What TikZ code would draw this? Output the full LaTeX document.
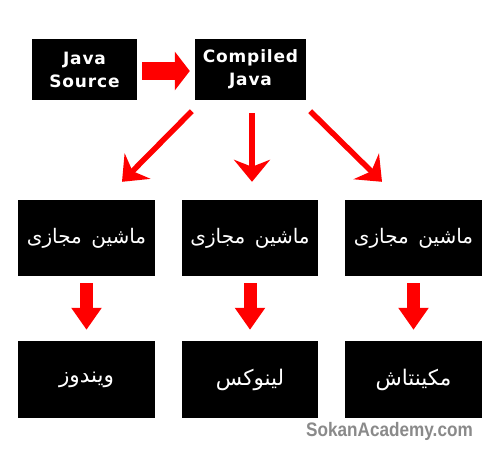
\documentclass[tikz,border=0pt]{standalone}
\usepackage{fontspec}
\usetikzlibrary{arrows.meta,calc}
\TeXXeTstate=1
\newfontfamily\fa[Script=Arabic]{DejaVu Sans}
\newfontfamily\lat[LetterSpace=5]{DejaVu Sans Bold}
\newfontfamily\wm[FakeStretch=0.88]{Liberation Sans Bold}
\definecolor{arr}{HTML}{FF0000}
\definecolor{wmgray}{HTML}{8A8A8A}
\begin{document}
\begin{tikzpicture}[x=1pt,y=-1pt,
  blk/.style={fill=black,text=white,inner sep=0pt,align=center},
  topbox/.style={blk,minimum height=61pt,font=\lat\fontsize{17}{23}\selectfont},
  rowbox/.style={blk,minimum width=137pt},
  vmbox/.style={rowbox,minimum height=76pt,font=\fa\fontsize{20}{24}\selectfont},
  osbox/.style={rowbox,minimum height=77pt,font=\fa\fontsize{21.5}{26}\selectfont},
  fatarrow/.style={draw=arr,line width=18pt,-{Triangle[length=15pt,width=38pt]}},
  downarrow/.style={draw=arr,line width=13pt,-{Triangle[length=22pt,width=29pt]}},
  thinarrow/.style={draw=arr,line width=5.5pt,-{Stealth[length=22pt,width=36pt,inset=7pt]}}]
\useasboundingbox (0,0) rectangle (500,466);
\fill[white] (0,0) rectangle (500,466);
% top row
\node[topbox,minimum width=105pt] (js) at (84.5,69.5) {Java\\Source};
\node[topbox,minimum width=111pt] (cj) at (250.5,69.5) {Compiled\\Java};
% virtual machines
\node[vmbox] (vm1) at (86.5,238) {\beginR ماشین\hspace{3pt} مجازی\endR};
\node[vmbox,minimum width=136pt] (vm2) at (250,238) {\beginR ماشین\hspace{3pt} مجازی\endR};
\node[vmbox] (vm3) at (413.5,238) {\beginR ماشین\hspace{3pt} مجازی\endR};
% operating systems
\node[osbox] (os1) at (86.5,379.5) {\beginR ویندوز\endR};
\node[osbox,minimum width=136pt] (os2) at (250,379.5) {\beginR لینوکس\endR};
\node[osbox] (os3) at (413.5,379.5) {\beginR مکینتاش\endR};
% watermark
\node[text=wmgray,font=\wm\fontsize{19.5}{22}\selectfont,anchor=base east,inner sep=0pt] (wm) at (473,436) {SokanAcademy.com};
% arrows
\draw[fatarrow,shorten <=5pt,shorten >=5pt] ($(js.east)+(0,1.5)$) -- ($(cj.west)+(0,1.5)$);
\coordinate (s1) at ($(cj.south west)+(-3,11)$);
\coordinate (e1) at ($(vm1.north)+(35.5,-18)$);
\coordinate (s2) at ($(cj.south)+(1.5,13)$);
\coordinate (e2) at ($(vm2.north)+(2,-18)$);
\coordinate (s3) at ($(cj.south east)+(4,11)$);
\coordinate (e3) at ($(vm3.north)+(-31.5,-18)$);
\draw[thinarrow] (s1) -- (e1);
\draw[thinarrow] (s2) -- (e2);
\draw[thinarrow] (s3) -- (e3);
\draw[downarrow,shorten <=7pt,shorten >=11pt] (vm1.south) -- (os1.north);
\draw[downarrow,shorten <=7pt,shorten >=11pt] (vm2.south) -- (os2.north);
\draw[downarrow,shorten <=7pt,shorten >=11pt] (vm3.south) -- (os3.north);
\end{tikzpicture}
\end{document}
